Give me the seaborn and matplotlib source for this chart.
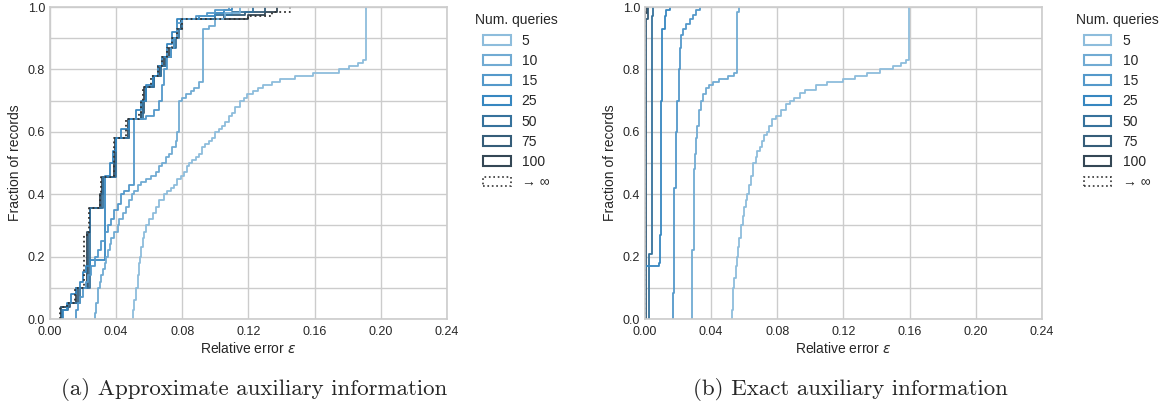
import matplotlib
matplotlib.use("Agg")
import matplotlib.pyplot as plt
from matplotlib.patches import Patch
from matplotlib.ticker import MultipleLocator, FormatStrFormatter
import seaborn as sns
import pandas as pd

# ---- data: relative error per record (value, share of records in %) ----
queries = ["5", "10", "15", "25", "50", "75", "100"]
inf_label = "\u2192 \u221e"

# (a) approximate auxiliary information
approx_q5_err = [0.050, 0.051, 0.052, 0.053, 0.054, 0.0545, 0.055, 0.056, 0.057, 0.058,
                 0.060, 0.062, 0.064, 0.066, 0.069, 0.071, 0.073, 0.075, 0.077, 0.079,
                 0.081, 0.083, 0.084, 0.086, 0.088, 0.090, 0.092, 0.094, 0.096, 0.098,
                 0.100, 0.102, 0.104, 0.106, 0.108, 0.110, 0.112, 0.115, 0.117, 0.119,
                 0.123, 0.126, 0.129, 0.134, 0.139, 0.148, 0.159, 0.175, 0.181, 0.186,
                 0.189, 0.191]
approx_q5_cnt = [3, 3, 4, 4, 4, 2, 3, 3, 2, 2,
                 2, 2, 2, 2, 2, 1, 1, 1, 2, 1,
                 1, 2, 1, 1, 1, 1, 2, 1, 1, 1,
                 2, 1, 1, 1, 2, 1, 2, 2, 1, 1,
                 1, 1, 1, 1, 1, 1, 1, 1, 1, 1,
                 1, 17]
approx_q10_err = [0.027, 0.028, 0.029, 0.030, 0.031, 0.032, 0.033, 0.034, 0.035, 0.036,
                  0.037, 0.039, 0.041, 0.042, 0.044, 0.046, 0.048, 0.0495, 0.051, 0.053,
                  0.055, 0.058, 0.061, 0.064, 0.066, 0.068, 0.070, 0.072, 0.074, 0.076,
                  0.077, 0.078, 0.080, 0.082, 0.085, 0.087, 0.090, 0.0925, 0.096, 0.100,
                  0.106, 0.115]
approx_q10_cnt = [2, 3, 5, 2, 2, 2, 2, 2, 2, 2,
                  2, 2, 2, 2, 2, 2, 2, 2, 1, 2,
                  1, 1, 1, 1, 2, 1, 2, 1, 2, 2,
                  3, 10, 1, 1, 1, 1, 2, 17, 1, 2,
                  2, 2]
approx_q15_err = [0.016, 0.017, 0.018, 0.020, 0.022, 0.023, 0.025, 0.027, 0.029, 0.031,
                  0.033, 0.035, 0.037, 0.039, 0.041, 0.043, 0.045, 0.048, 0.051, 0.058,
                  0.063, 0.066, 0.068, 0.069, 0.071, 0.073, 0.075, 0.077, 0.080, 0.088,
                  0.095, 0.100, 0.108]
approx_q15_cnt = [3, 2, 2, 3, 2, 2, 3, 3, 2, 3,
                  3, 2, 2, 3, 2, 3, 1, 2, 21, 1,
                  2, 3, 5, 5, 4, 3, 3, 5, 1, 1,
                  1, 1, 1]
approx_q25_err = [0.008, 0.010, 0.013, 0.016, 0.018, 0.020, 0.022, 0.024, 0.033, 0.036,
                  0.038, 0.040, 0.043, 0.048, 0.052, 0.055, 0.058, 0.062, 0.065, 0.068,
                  0.071, 0.074, 0.077, 0.090, 0.100, 0.105, 0.110]
approx_q25_cnt = [3, 2, 3, 2, 2, 3, 2, 2, 27, 4,
                  4, 4, 3, 3, 3, 3, 5, 3, 3, 3,
                  4, 4, 4, 1, 1, 1, 1]
approx_q50_err = [0.007, 0.011, 0.018, 0.0245, 0.032, 0.040, 0.048, 0.056, 0.058, 0.063,
                  0.067, 0.070, 0.073, 0.076, 0.078, 0.080, 0.100, 0.110, 0.123]
approx_q50_cnt = [3, 2, 5, 25.5, 10, 12.5, 6, 6, 4.5, 3.5,
                  3, 3, 3, 3, 3, 3, 1.5, 1, 1.5]
approx_q75_err = [0.0068, 0.012, 0.017, 0.023, 0.0245, 0.031, 0.032, 0.0395, 0.040, 0.048,
                  0.055, 0.057, 0.058, 0.063, 0.067, 0.070, 0.073, 0.075, 0.077, 0.079,
                  0.105, 0.118, 0.130]
approx_q75_cnt = [4, 1, 5, 18, 7.5, 4.5, 5.5, 4.5, 8, 6,
                  2, 4, 4.5, 3.5, 3, 3, 3, 3, 3, 3,
                  1.5, 1, 1.5]
approx_q100_err = [0.0068, 0.011, 0.016, 0.0225, 0.024, 0.0305, 0.0315, 0.039, 0.0395, 0.047,
                   0.055, 0.056, 0.057, 0.062, 0.066, 0.069, 0.072, 0.075, 0.077, 0.079,
                   0.120, 0.130, 0.137]
approx_q100_cnt = [4, 1, 5, 18, 7.5, 4.5, 5.5, 4.5, 8, 6,
                   2, 4, 4.5, 3.5, 3, 3, 3, 3, 3, 3,
                   1.5, 1, 1.5]
approx_inf_err = [0.0062, 0.010, 0.015, 0.0205, 0.0235, 0.030, 0.031, 0.0385, 0.039, 0.046,
                  0.054, 0.055, 0.0565, 0.061, 0.065, 0.068, 0.071, 0.074, 0.077, 0.080,
                  0.120, 0.134, 0.145]
approx_inf_cnt = [4, 1, 5, 17, 8.5, 4.5, 5.5, 4.5, 8, 6,
                  2, 4, 4.5, 3.5, 3, 3, 3, 3, 3, 3,
                  1, 1.5, 1.5]

# (b) exact auxiliary information
exact_q5_err = [0.0524, 0.053, 0.0535, 0.054, 0.055, 0.0558, 0.0565, 0.057, 0.058, 0.059,
                0.060, 0.061, 0.062, 0.063, 0.064, 0.0655, 0.067, 0.068, 0.0695, 0.071,
                0.072, 0.0735, 0.075, 0.077, 0.0795, 0.082, 0.085, 0.0876, 0.090, 0.0937,
                0.097, 0.1037, 0.110, 0.120, 0.127, 0.134, 0.142, 0.150, 0.155, 0.158,
                0.1596]
exact_q5_cnt = [3, 4, 3, 3, 4, 3, 3, 3, 4, 3,
                3, 2, 2, 3, 3, 4, 2, 2, 1, 2,
                2, 1, 2, 2, 1, 2, 2, 1, 1, 1.5,
                1, 1.5, 1, 1, 1, 1, 1, 1, 1, 1,
                17]
exact_q10_err = [0.0286, 0.0296, 0.0305, 0.031, 0.0316, 0.0325, 0.034, 0.035, 0.037, 0.039,
                 0.041, 0.045, 0.050, 0.054, 0.0556, 0.057]
exact_q10_cnt = [22, 26, 5, 5, 4, 5, 3, 2, 2, 1,
                 1, 1, 1, 1, 19.5, 1.5]
exact_q15_err = [0.0167, 0.0175, 0.0187, 0.0195, 0.0207, 0.0213, 0.022, 0.023, 0.025, 0.027,
                 0.029, 0.031, 0.033]
exact_q15_cnt = [8.5, 33.5, 18, 10, 10, 7, 4, 2, 1.5, 1.5,
                 1.5, 1.5, 1]
exact_q25_err = [0.0, 0.0085, 0.009, 0.0097, 0.0105, 0.012, 0.013, 0.015]
exact_q25_cnt = [17, 1, 9, 43, 23, 4, 2, 1]
exact_q50_err = [0.0027, 0.0042, 0.005]
exact_q50_cnt = [21, 76, 3]
exact_q75_err = [0.0008, 0.0018]
exact_q75_cnt = [96, 4]
exact_q100_err = [0.0002, 0.001]
exact_q100_cnt = [98, 2]
exact_inf_err = [0.0]
exact_inf_cnt = [100]


def to_frame(series):
    parts = []
    for q, err, cnt in series:
        parts.append(pd.DataFrame({"err": err, "count": cnt, "queries": q}))
    return pd.concat(parts, ignore_index=True)


approx_df = to_frame([
    ("5", approx_q5_err, approx_q5_cnt), ("10", approx_q10_err, approx_q10_cnt),
    ("15", approx_q15_err, approx_q15_cnt), ("25", approx_q25_err, approx_q25_cnt),
    ("50", approx_q50_err, approx_q50_cnt), ("75", approx_q75_err, approx_q75_cnt),
    ("100", approx_q100_err, approx_q100_cnt),
])
exact_df = to_frame([
    ("5", exact_q5_err, exact_q5_cnt), ("10", exact_q10_err, exact_q10_cnt),
    ("15", exact_q15_err, exact_q15_cnt), ("25", exact_q25_err, exact_q25_cnt),
    ("50", exact_q50_err, exact_q50_cnt), ("75", exact_q75_err, exact_q75_cnt),
    ("100", exact_q100_err, exact_q100_cnt),
])
approx_inf = pd.DataFrame({"err": approx_inf_err, "count": approx_inf_cnt})
exact_inf = pd.DataFrame({"err": exact_inf_err, "count": exact_inf_cnt})

# ---- style ----
sns.set_theme(style="whitegrid")
plt.rcParams["font.family"] = ["Liberation Sans", "DejaVu Sans"]
plt.rcParams["mathtext.fontset"] = "dejavusans"

# light blue for few queries, dark slate for many
palette = sns.color_palette("Blues_d", len(queries))
inf_color = "#333333"

fig = plt.figure(figsize=(11.62, 4.08), dpi=100)
ax_a = fig.add_axes([0.043, 0.218, 0.3417, 0.7648])
ax_b = fig.add_axes([0.555, 0.218, 0.3417, 0.7648])

for ax, df, inf_df, lx in [(ax_a, approx_df, approx_inf, 1.038),
                           (ax_b, exact_df, exact_inf, 1.053)]:
    sns.ecdfplot(data=df, x="err", weights="count", hue="queries", hue_order=queries,
                 palette=palette, linewidth=1.3, legend=False, ax=ax)
    sns.ecdfplot(data=inf_df, x="err", weights="count", color=inf_color,
                 linestyle=":", linewidth=1.3, ax=ax)

    ax.set_xlim(0, 0.24)
    ax.set_ylim(0, 1.0)
    ax.xaxis.set_major_locator(MultipleLocator(0.04))
    ax.xaxis.set_major_formatter(FormatStrFormatter("%.2f"))
    ax.yaxis.set_major_locator(MultipleLocator(0.2))
    ax.yaxis.set_minor_locator(MultipleLocator(0.1))
    ax.yaxis.set_major_formatter(FormatStrFormatter("%.1f"))
    ax.grid(which="major", color="#cccccc", linewidth=1.0)
    ax.grid(which="minor", axis="y", color="#cccccc", linewidth=1.0)
    ax.tick_params(which="both", length=0, labelsize=9, colors="#262626")
    ax.tick_params(axis="x", pad=5)
    for sp in ax.spines.values():
        sp.set_color("#cccccc")
        sp.set_linewidth(1.2)
    ax.set_xlabel(r"Relative error $\varepsilon$", fontsize=10, labelpad=2)
    ax.set_ylabel("Fraction of records", fontsize=10, labelpad=4)

    handles = [Patch(facecolor="white", edgecolor=c, linewidth=1.5) for c in palette]
    handles.append(Patch(facecolor="white", edgecolor=inf_color, linewidth=1.2, linestyle=":"))
    ax.legend(handles, queries + [inf_label], title="Num. queries", loc="upper left",
              bbox_to_anchor=(lx, 1.02), frameon=False, fontsize=10, title_fontsize=10,
              handlelength=2.0, labelspacing=0.45)

fig.text(0.219, 0.045, "(a) Approximate auxiliary information", family="cmr10",
         fontsize=16.5, ha="center", va="center")
fig.text(0.732, 0.045, "(b) Exact auxiliary information", family="cmr10",
         fontsize=16.5, ha="center", va="center")

fig.savefig("out.png", dpi=100)
